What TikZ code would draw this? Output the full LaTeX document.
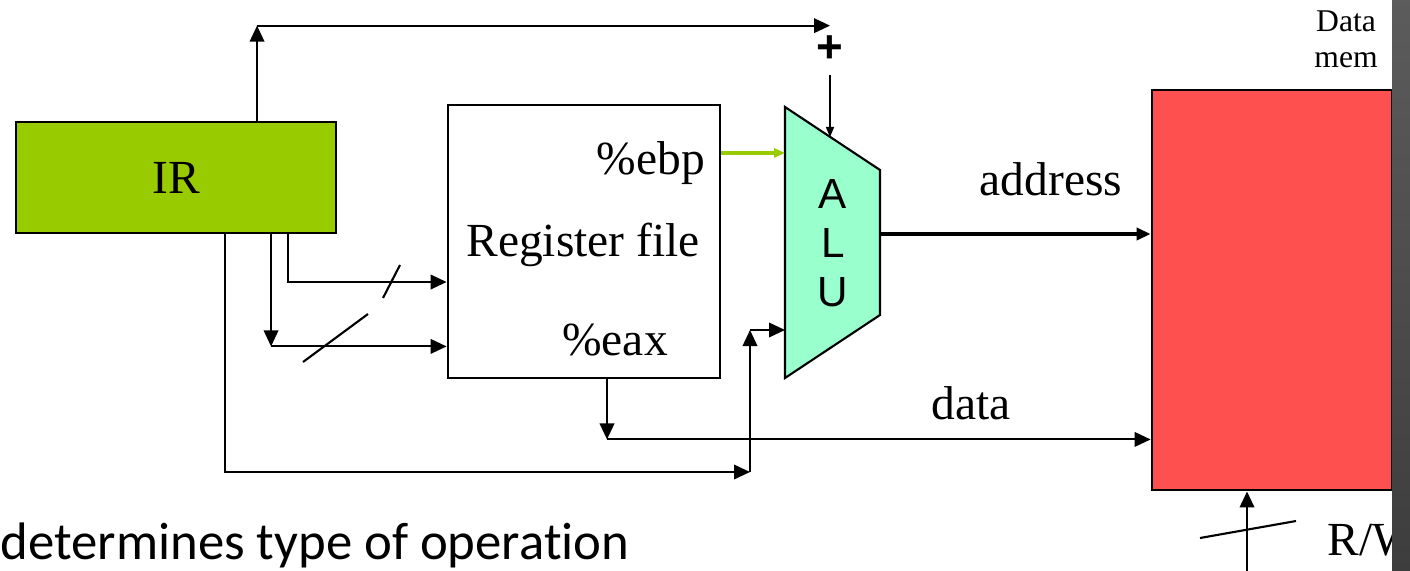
\documentclass[tikz,border=0pt]{standalone}
\usepackage{fontspec}
\setmainfont{Liberation Serif}
\newfontfamily\alufont{Liberation Sans}
\newfontfamily\notefont[Ligatures=NoCommon]{Carlito}
\usetikzlibrary{arrows.meta, positioning}
\definecolor{irgreen}{HTML}{99CC00}
\definecolor{alugreen}{HTML}{99FFCC}
\definecolor{memred}{HTML}{FF5050}

\begin{document}
\begin{tikzpicture}[x=0.01cm, y=-0.01cm,
    blk/.style={rectangle, draw=black, line width=0.75pt, inner sep=0pt,
                font=\fontsize{13.5}{16}\selectfont},
    lbl/.style={inner sep=0pt, font=\fontsize{13.5}{16}\selectfont},
    arr/.style={-{Triangle[length=1.6mm, width=1.45mm]}, line width=0.6pt},
    sarr/.style={-{Triangle[length=1.0mm, width=0.8mm]}, line width=0.45pt},
    garr/.style={-{Triangle[length=1.1mm, width=0.9mm]}, line width=0.9pt, color=irgreen},
    warr/.style={-{Triangle[length=1.4mm, width=1.2mm]}, line width=1.4pt}
  ]
    \useasboundingbox (0,0) rectangle (1410,570);

    % blocks
    \node[blk, fill=irgreen, minimum width=3.2cm, minimum height=1.11cm] (ir) at (176,177.5) {IR};
    \node[blk, fill=white, minimum width=2.72cm, minimum height=2.73cm] (rf) at (584,241.5) {};
    \node[lbl] (rflbl) at (583,245) {Register file};
    \node[lbl] (ebp) at (651,163) {\%ebp};
    \node[lbl] (eax) at (615,340) {\%eax};
    \node[blk, fill=memred, minimum width=2.4cm, minimum height=4cm] (mem) at (1272,290) {};
    \node[inner sep=0pt, align=center, font=\fontsize{9}{10.3}\selectfont] (memlbl) at (1346,39) {Data\\mem};

    % ALU
    \coordinate (alu-tl) at (785,107);
    \coordinate (alu-tr) at (880,170);
    \coordinate (alu-br) at (880,315);
    \coordinate (alu-bl) at (785,378);
    \draw[fill=alugreen, line width=0.6pt] (alu-tl) -- (alu-tr) -- (alu-br) -- (alu-bl) -- cycle;
    \node[inner sep=0pt, align=center, font=\alufont\fontsize{12}{14}\selectfont] (alu) at (833,243) {A\\L\\U};
    \coordinate (alu-a) at (830,137);
    \coordinate (alu-b) at (785,330);
    \coordinate (alu-out) at (880,234);
    \node[inner sep=0pt, font=\alufont\bfseries\fontsize{13}{14}\selectfont] (plus) at (830,49) {+};

    % IR fields
    \draw[arr] ([xshift=0.81cm]ir.north) -- ++(0,-95) coordinate (up0);
    \draw[arr] (up0) -- (up0 -| plus);
    \draw[sarr] ([yshift=-0.12cm]plus.south) -- (alu-a);
    \draw[arr] ([xshift=1.12cm]ir.south) |- ([yshift=-0.405cm]rf.west);
    \coordinate (r1) at ([xshift=0.95cm, yshift=-1.12cm]ir.south);
    \draw[arr] ([xshift=0.95cm]ir.south) -- (r1);
    \draw[arr] (r1) -- (r1 -| rf.west);
    \coordinate (b0) at (750,472);
    \coordinate (b1) at (750,330);
    \draw[arr] ([xshift=0.49cm]ir.south) |- (b0);
    \draw[arr] (b0) -- (b1);
    \draw[arr] (b1) -- (alu-b);
    \draw[line width=0.6pt] (383,298) -- (400,265);
    \draw[line width=0.6pt] (303,362) -- (368,314);

    % register file and ALU outputs
    \coordinate (g0) at ([yshift=0.885cm]rf.east);
    \draw[garr] (g0) -- (g0 -| alu-tl);
    \draw[warr] (alu-out) -- (alu-out -| mem.west);
    \node[lbl] (addr) at (1051,179) {address};
    \coordinate (d0) at ([xshift=0.23cm, yshift=-0.6cm]rf.south);
    \draw[arr] ([xshift=0.23cm]rf.south) -- (d0);
    \draw[arr] (d0) -- (d0 -| mem.west);
    \node[lbl] (data) at (971,403) {data};

    % read/write
    \coordinate (rw0) at (1247,575);
    \draw[arr] (rw0) -- (rw0 |- mem.south);
    \draw[line width=0.6pt] (1200,538) -- (1296,521);
    \node[lbl, anchor=west] (rw) at (1327,540) {R/W};

    \node[inner sep=0pt, anchor=west, font=\notefont\fontsize{15}{18}\selectfont] (note) at (0,545) {determines type of operation};

    \shade[top color=black!64, bottom color=black!76] (1392,0) rectangle (1410,570);
  \end{tikzpicture}
\end{document}
